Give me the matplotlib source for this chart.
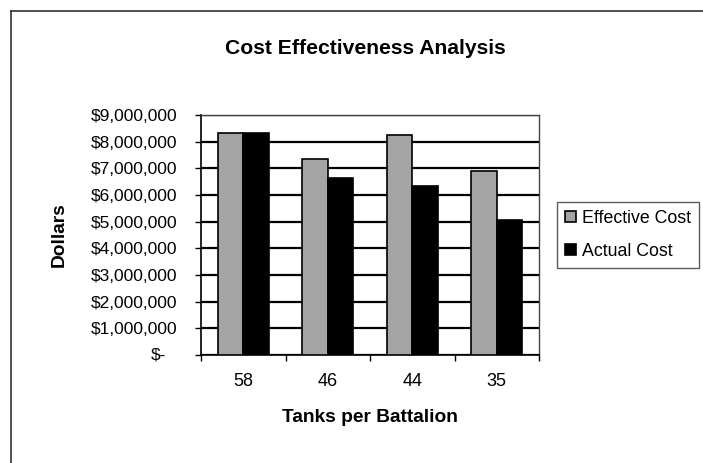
import matplotlib
matplotlib.use("Agg")
import matplotlib.pyplot as plt
from matplotlib.ticker import FuncFormatter, FixedLocator
from matplotlib.lines import Line2D
import numpy as np

plt.rcParams['font.family'] = ['Liberation Sans', 'DejaVu Sans']

categories = ['58', '46', '44', '35']
effective_cost = [8310000, 7360000, 8260000, 6890000]
actual_cost = [8340000, 6620000, 6340000, 5070000]
series_names = ['Effective Cost', 'Actual Cost']
y_ticks = [0, 1000000, 2000000, 3000000, 4000000, 5000000, 6000000, 7000000, 8000000, 9000000]

W, H = 703, 463
fig = plt.figure(figsize=(W / 100, H / 100), dpi=100)
fig.patch.set_facecolor('white')

ax = fig.add_axes([201 / W, 1 - 355 / H, 338 / W, 240 / H])

x = np.arange(len(categories))
bw = 0.3
ax.bar(x - bw / 2, effective_cost, width=bw, color='#a4a4a4', edgecolor='black',
       linewidth=1.2, zorder=3, label=series_names[0])
ax.bar(x + bw / 2, actual_cost, width=bw, color='black', edgecolor='black',
       linewidth=1.2, zorder=3, label=series_names[1])

ax.set_xlim(-0.5, len(categories) - 0.5)
ax.set_ylim(0, 9000000)

# y axis
ax.yaxis.set_major_locator(FixedLocator(y_ticks))
def fmt(v, pos):
    if v == 0:
        return ''
    return '${:,.0f}'.format(v)
ax.yaxis.set_major_formatter(FuncFormatter(fmt))
ax.tick_params(axis='y', direction='out', length=4, width=1, pad=13, labelsize=12.5, colors='black')
ax.annotate('$-', xy=(0, 0), xycoords=('axes fraction', 'data'), xytext=(-25, 0),
            textcoords='offset points', ha='right', va='center', fontsize=12.5)

ax.yaxis.grid(True, color='black', linewidth=1.6, zorder=0)
ax.set_axisbelow(True)

# x axis: ticks at boundaries, labels at centers
ax.xaxis.set_major_locator(FixedLocator(np.arange(len(categories) + 1) - 0.5))
ax.xaxis.set_major_formatter(FuncFormatter(lambda v, p: ''))
ax.xaxis.set_minor_locator(FixedLocator(x))
ax.xaxis.set_minor_formatter(FuncFormatter(lambda v, p: categories[int(round(v))]))
ax.tick_params(axis='x', which='major', direction='out', length=4, width=1)
ax.tick_params(axis='x', which='minor', length=0, pad=13, labelsize=13)

for s in ['left', 'bottom']:
    ax.spines[s].set_color('black')
    ax.spines[s].set_linewidth(1.2)
for s in ['top', 'right']:
    ax.spines[s].set_color('#444444')
    ax.spines[s].set_linewidth(1.0)

ax.set_xlabel('Tanks per Battalion', fontsize=13.8, fontweight='bold')
ax.set_ylabel('Dollars', fontsize=13.8, fontweight='bold')
ax.xaxis.set_label_coords((370 - 201) / 338, (355 - 418) / 240)
ax.xaxis.label.set_va('center')
ax.yaxis.set_label_coords((59 - 201) / 338, 0.5)
ax.yaxis.label.set_va('center')

fig.text(365 / W, 1 - 48 / H, 'Cost Effectiveness Analysis', ha='center', va='center',
         fontsize=15.2, fontweight='bold')

leg = fig.legend(loc='upper left', bbox_to_anchor=(557 / W, 1 - 202 / H),
                 fontsize=12.8, frameon=True, fancybox=False, edgecolor='#333333',
                 handlelength=0.6, handleheight=0.6, handletextpad=0.35,
                 labelspacing=0.9, borderpad=0.45, borderaxespad=0)
leg.get_frame().set_linewidth(1.0)

# outer chart frame (top and left edges visible)
fig.add_artist(Line2D([11 / W, 1.0], [1 - 11 / H, 1 - 11 / H], transform=fig.transFigure,
                      color='#333333', linewidth=1.2))
fig.add_artist(Line2D([11 / W, 11 / W], [0.0, 1 - 11 / H], transform=fig.transFigure,
                      color='#333333', linewidth=1.2))

fig.savefig('out.png', dpi=100, facecolor='white')
